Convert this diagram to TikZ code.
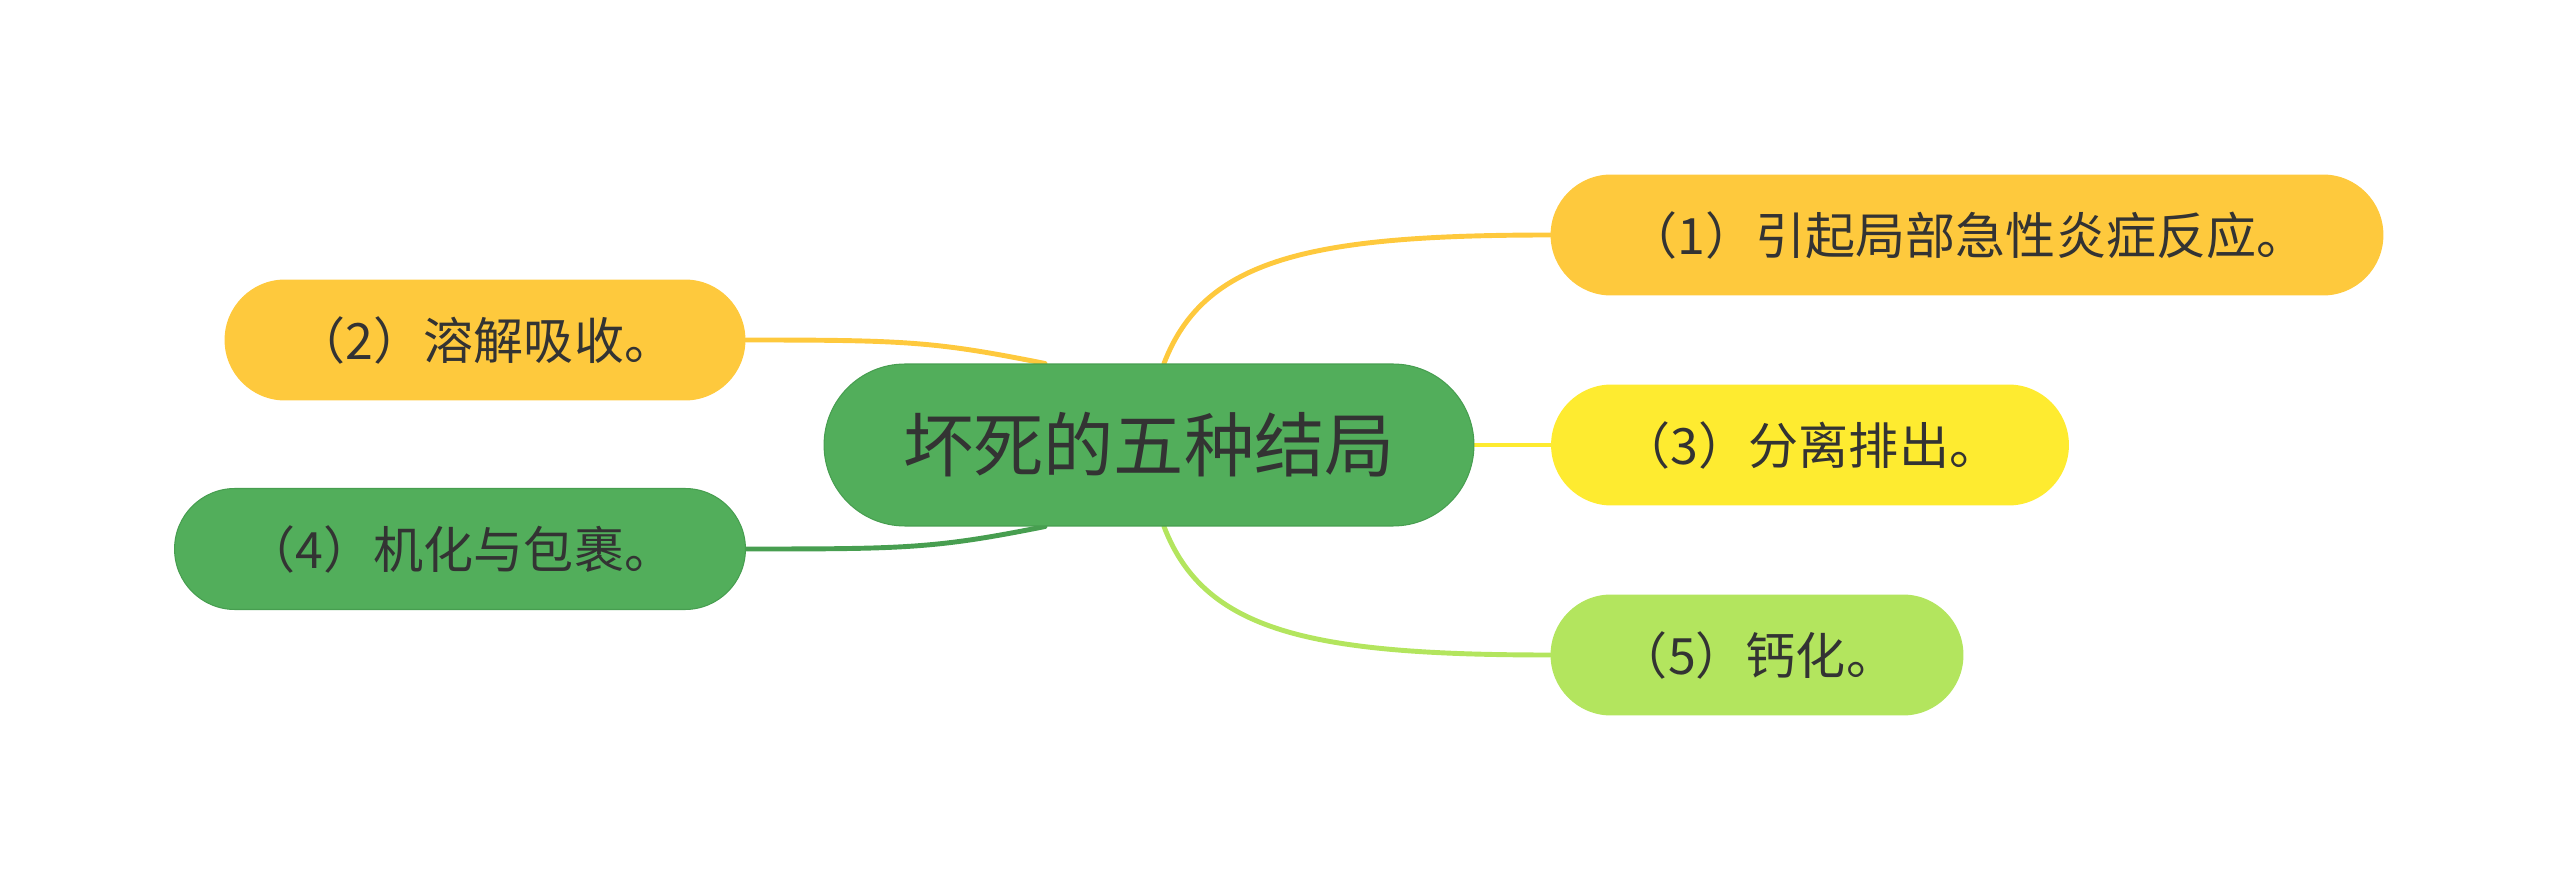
\documentclass[tikz,border=0pt]{standalone}
\usepackage{fontspec}
\usepackage{xcolor}
\usepackage{tikz}
\usetikzlibrary{positioning, calc, backgrounds}
\newfontfamily\cjk{Noto Sans CJK SC}
\definecolor{rootgreen}{HTML}{52AE5B}
\definecolor{rootedge}{HTML}{479E50}
\definecolor{myorange}{HTML}{FEC93D}
\definecolor{myyellow}{HTML}{FEEB30}
\definecolor{mylime}{HTML}{B3E55E}
\definecolor{mytext}{HTML}{333333}
\tikzset{
  rootnode/.style={rectangle, draw=rootedge, fill=rootgreen, line width=0.6pt,
    minimum width=13cm, minimum height=3.24cm, rounded corners=1.62cm,
    inner sep=0pt, text=mytext, font=\cjk\fontsize{40}{48}\selectfont},
  leaf/.style={rectangle, minimum height=2.42cm, rounded corners=1.21cm,
    inner sep=0pt, text=mytext, font=\cjk\fontsize{28.5}{34}\selectfont},
  orangeleaf/.style={leaf, fill=myorange},
  yellowleaf/.style={leaf, fill=myyellow},
  limeleaf/.style={leaf, fill=mylime},
  greenleaf/.style={leaf, fill=rootgreen, draw=rootedge, line width=0.6pt},
  branch/.style={line width=2.8pt, line cap=round}
}
\begin{document}
\begin{tikzpicture}[x=0.02cm, y=-0.02cm]
  \useasboundingbox (0,0) rectangle (2560,891);
  % Nodes
  \node[rootnode] (root) at (1149,445) {坏死的五种结局};

  \node[orangeleaf, minimum width=16.66cm] (end1) at (1967,235) {（1）引起局部急性炎症反应。};
  \node[yellowleaf, minimum width=10.36cm] (end3) at (1810,445) {（3）分离排出。};
  \node[limeleaf, minimum width=8.26cm] (end5) at (1757,655) {（5）钙化。};

  \node[orangeleaf, minimum width=10.42cm] (end2) at (485,340) {（2）溶解吸收。};
  \node[greenleaf, minimum width=11.42cm] (end4) at (460,549) {（4）机化与包裹。};

  % Branches
  \begin{scope}[on background layer]
    \draw[branch, myorange] ([xshift=0.3cm]root.north) .. controls +(40,-105) and +(-240,0) .. (end1.west);
    \draw[branch, myyellow] (root.east) -- (end3.west);
    \draw[branch, mylime] ([xshift=0.3cm]root.south) .. controls +(40,105) and +(-240,0) .. (end5.west);
    \draw[branch, myorange] (end2.east) .. controls +(160,0) and +(-110,-22) .. ([xshift=-2.08cm]root.north);
    \draw[branch, rootedge] (end4.east) .. controls +(160,0) and +(-110,22) .. ([xshift=-2.08cm]root.south);
  \end{scope}
\end{tikzpicture}
\end{document}
